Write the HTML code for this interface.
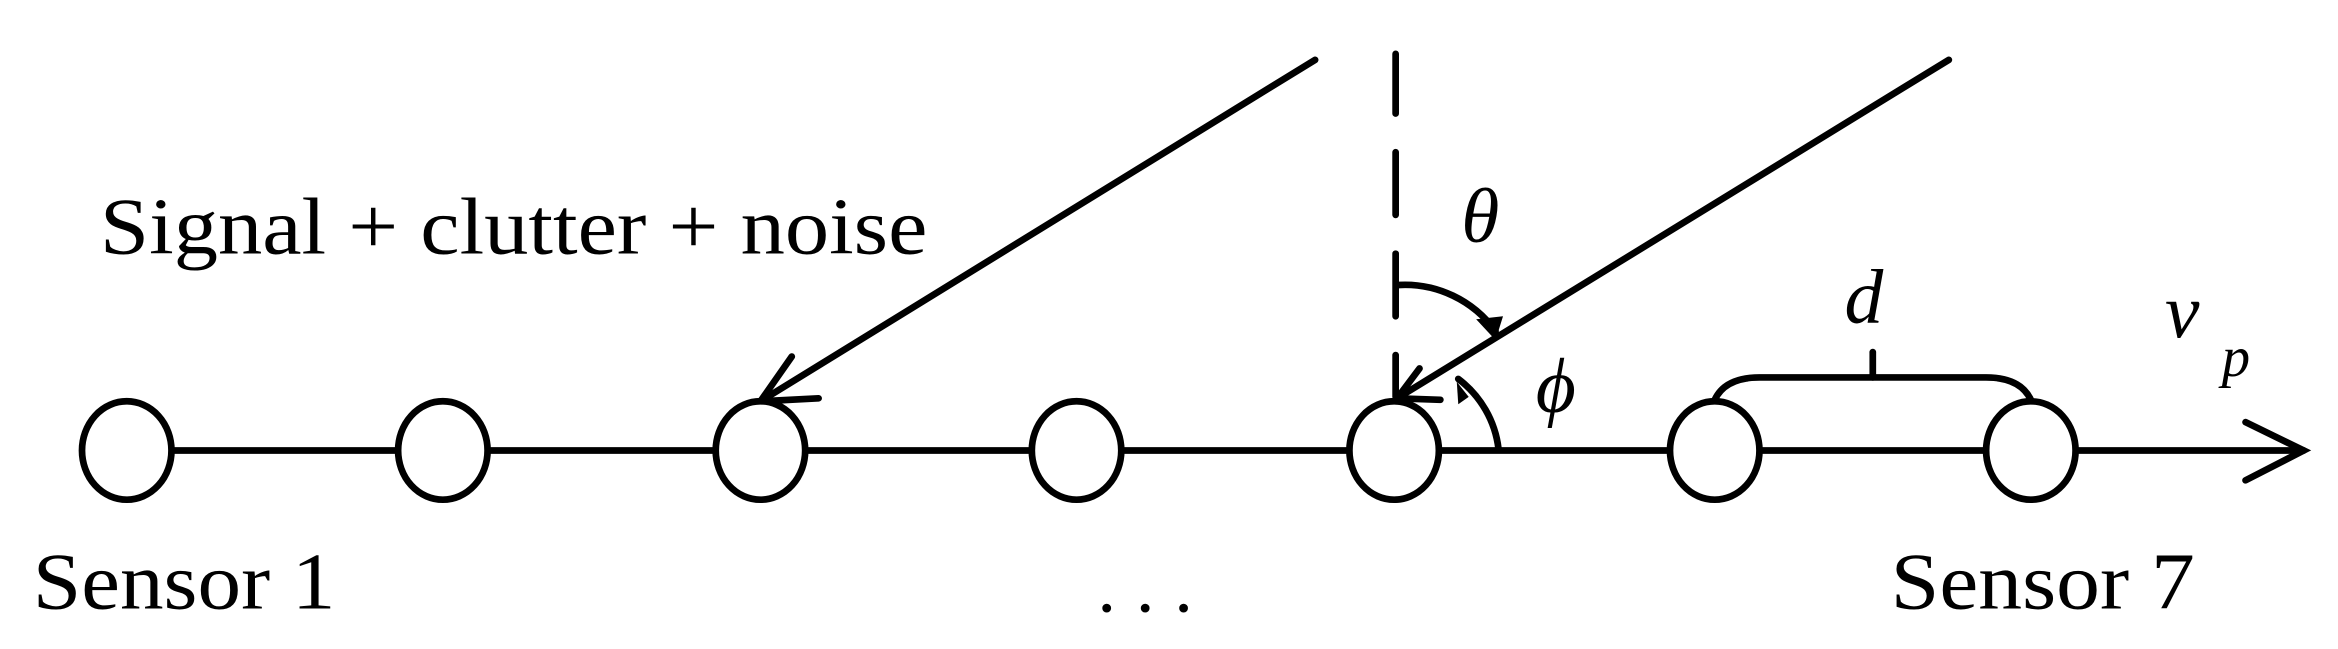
<!DOCTYPE html>
<html><head><meta charset="utf-8"><style>html,body{margin:0;padding:0;background:#fff}svg{display:block}text{font-family:"Liberation Serif","Times New Roman",serif}</style></head>
<body>
<svg width="2338" height="649" viewBox="0 0 1568 435" xmlns="http://www.w3.org/2000/svg">
<g fill="none" stroke="#000" stroke-width="4.5" stroke-linecap="round">
<line x1="115" y1="302" x2="1545" y2="302"/>
<polyline points="1506,283 1545,302 1506,322"/>
<line x1="882" y1="40" x2="510" y2="269"/>
<polyline points="531,239 510,269 549,267"/>
<line x1="1307" y1="40" x2="937" y2="267"/>
<polyline points="952,247 937,267 966,268"/>
<line x1="936" y1="36" x2="936" y2="76"/>
<line x1="936" y1="102" x2="936" y2="144"/>
<line x1="936" y1="170" x2="936" y2="212"/>
<line x1="936" y1="238" x2="936" y2="266"/>
<path d="M938,191 A75,75 0 0 1 1003,222"/>
<path d="M978,254 A69,69 0 0 1 1005,301"/>
<path d="M1150,268 Q1157,253 1180,253 L1332,253 Q1355,253 1362,268"/>
<line x1="1256" y1="236" x2="1256" y2="253"/>
</g>
<g fill="#000">
<polygon points="990,214 1008,212 1003,228"/>
<polygon points="977,256 985,266 978,271"/>
</g>
<g fill="#fff" stroke="#000" stroke-width="4.5">
<ellipse cx="85" cy="302" rx="30" ry="33"/>
<ellipse cx="297" cy="302" rx="30" ry="33"/>
<ellipse cx="510" cy="302" rx="30" ry="33"/>
<ellipse cx="722" cy="302" rx="30" ry="33"/>
<ellipse cx="935" cy="302" rx="30" ry="33"/>
<ellipse cx="1150" cy="302" rx="30" ry="33"/>
<ellipse cx="1362" cy="302" rx="30" ry="33"/>
</g>
<g fill="#000">
<text x="67" y="170" font-size="54" textLength="555" lengthAdjust="spacingAndGlyphs">Signal + clutter + noise</text>
<text x="22" y="408" font-size="54" textLength="203" lengthAdjust="spacingAndGlyphs">Sensor 1</text>
<text x="1268" y="408" font-size="54" textLength="204" lengthAdjust="spacingAndGlyphs">Sensor 7</text>
<text x="736" y="410" font-size="50" textLength="64" lengthAdjust="spacing">...</text>
<text x="980" y="162" font-size="52" font-style="italic">θ</text>
<text x="1030" y="276" font-size="52" font-style="italic">ϕ</text>
<text x="1237" y="216" font-size="52" font-style="italic">d</text>
<text x="1452" y="226" font-size="52" font-style="italic">v</text>
<text x="1490" y="252" font-size="38" font-style="italic">p</text>
</g>
</svg>
</body></html>
